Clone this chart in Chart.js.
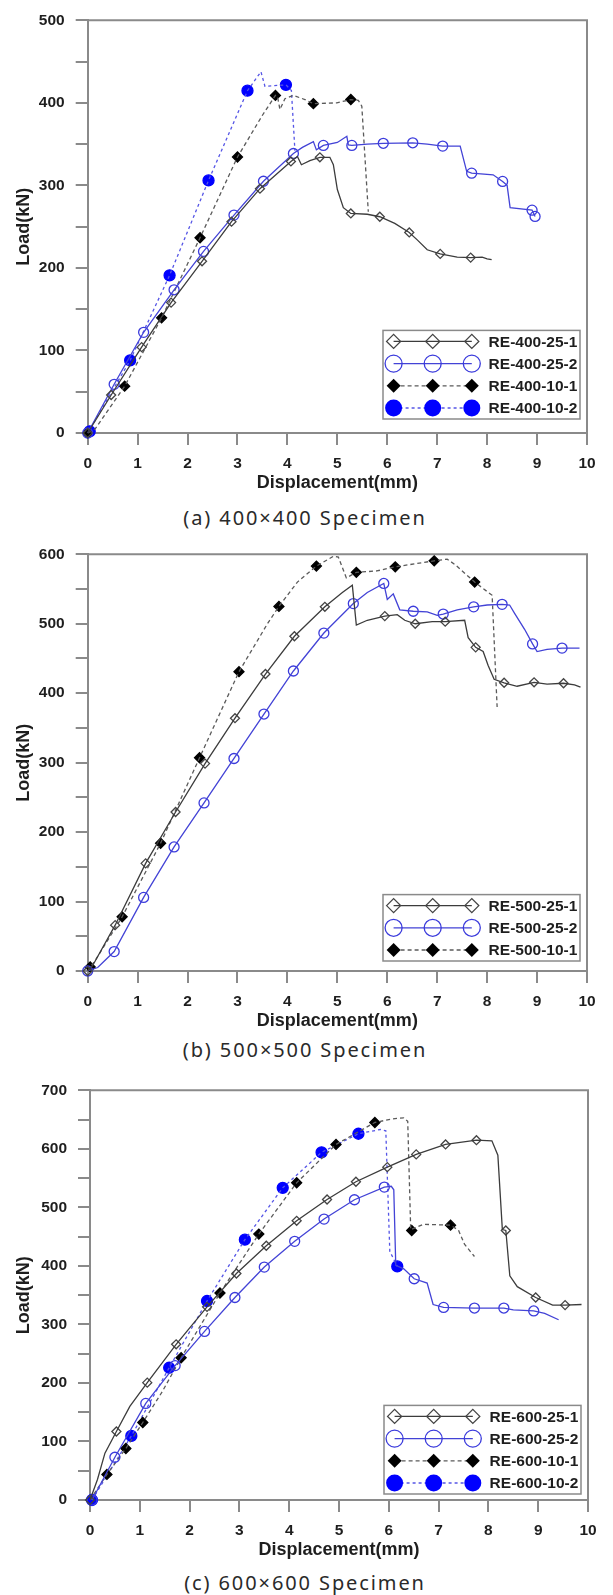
<!DOCTYPE html>
<html>
<head>
<meta charset="utf-8">
<script src="https://cdn.jsdelivr.net/npm/chart.js@4.4.1/dist/chart.umd.min.js"></script>
<style>
  body { margin: 0; background: #fff; width: 613px; height: 1595px; overflow: hidden; position: relative; }
  .painel { position: absolute; left: 0; width: 613px; }
  .rotulo { position: absolute; left: 0; width: 610px; text-align: center; line-height: 24px; letter-spacing: 1.9px;
            font-family: "Noto Sans", "DejaVu Sans", sans-serif; font-size: 20px; color: #2a2a2a; }
</style>
</head>
<body>
<script>
// (a) 400x400
const namesA = ['RE-400-25-1', 'RE-400-25-2', 'RE-400-10-1', 'RE-400-10-2'];
const a1Line = [[0,0],[0.47,46],[1.08,104],[1.67,158],[2.29,208],[2.88,256],[3.45,296],[4.07,329],[4.2,335],[4.28,325],[4.45,330],[4.65,334],[4.85,334],[4.92,325],[5.0,295],[5.12,273],[5.27,266],[5.6,265],[5.85,262],[6.15,254],[6.44,243],[6.6,234],[6.8,222],[7.06,217],[7.4,213],[7.67,212.5],[7.9,213],[8.0,211],[8.09,210]];
const a1Marks = [[0,0],[0.47,46],[1.08,104],[1.67,158],[2.29,208],[2.88,256],[3.45,296],[4.07,329],[4.65,334],[5.27,266],[5.85,262],[6.44,243],[7.06,217],[7.67,212.5]];
const a2Line = [[0,0],[0.53,59],[1.12,122],[1.73,173.5],[2.32,220],[2.93,264],[3.52,305],[4.12,338.6],[4.3,346],[4.52,353],[4.58,343],[4.72,348.4],[5.0,352],[5.19,359.5],[5.22,349],[5.29,348.4],[5.6,350],[5.92,351],[6.51,351.6],[6.8,350],[7.11,347.6],[7.46,347.6],[7.59,317],[7.69,314.8],[8.12,312.8],[8.31,304.8],[8.4,300],[8.46,273],[8.9,270],[8.96,262.4]];
const a2Marks = [[0,0],[0.53,59],[1.12,122],[1.73,173.5],[2.32,220],[2.93,264],[3.52,305],[4.12,338.6],[4.72,348.4],[5.29,348.4],[5.92,351],[6.51,351.6],[7.11,347.6],[7.69,314.8],[8.31,304.8],[8.9,270],[8.96,262.4]];
const a3Line = [[0,0],[0.15,5],[0.74,56.7],[1.48,139.5],[2.25,236.5],[3.0,334.4],[3.5,385],[3.76,409],[3.8,408],[3.85,392],[3.95,405],[4.12,409],[4.35,404],[4.52,399],[4.99,400],[5.27,404],[5.42,403],[5.49,396],[5.62,268]];
const a3Marks = [[0,0],[0.74,56.7],[1.48,139.5],[2.25,236.5],[3.0,334.4],[3.76,409],[4.52,399],[5.27,404]];
const a4Line = [[0,0],[0.85,88],[1.64,191],[2.42,306],[3.2,414.7],[3.47,437.7],[3.55,420],[3.97,421.8],[4.08,415],[4.15,342]];
const a4Marks = [[0.04,2],[0.85,88],[1.64,191],[2.42,306],[3.2,414.7],[3.97,421.8]];

// (b) 500x500
const namesB = ['RE-500-25-1', 'RE-500-25-2', 'RE-500-10-1'];
const b1Line = [[0,0],[0.1,8],[0.55,66],[1.16,155],[1.76,229],[2.35,298.6],[2.95,364],[3.56,427.6],[4.14,482],[4.75,524.4],[5.1,545],[5.3,555.6],[5.38,498],[5.6,505],[5.95,511],[6.2,513],[6.35,505],[6.56,500],[6.9,503],[7.16,503],[7.55,505],[7.62,480],[7.77,466],[7.92,460],[8.02,440],[8.14,420],[8.34,415],[8.6,410],[8.94,415.7],[9.2,413],[9.53,414.3],[9.75,412],[9.87,408.7]];
const b1Marks = [[0,0],[0.55,66],[1.16,155],[1.76,229],[2.35,298.6],[2.95,364],[3.56,427.6],[4.14,482],[4.75,524.4],[5.95,511],[6.56,500],[7.16,503],[7.77,466],[8.34,415],[8.94,415.7],[9.53,414.3]];
const b2Line = [[0,0],[0.2,5],[0.53,28],[1.12,106],[1.73,178.6],[2.33,242],[2.93,306],[3.53,370],[4.12,432],[4.73,486.6],[5.32,529],[5.6,545],[5.93,558],[6.0,535],[6.12,543],[6.25,520],[6.52,518],[6.8,517],[7.0,512],[7.12,514],[7.4,520],[7.73,524.4],[8.0,527],[8.3,528],[8.45,527],[8.55,515],[8.75,492],[8.91,471],[9.0,460],[9.2,463],[9.5,465],[9.85,465]];
const b2Marks = [[0,0],[0.53,28],[1.12,106],[1.73,178.6],[2.33,242],[2.93,306],[3.53,370],[4.12,432],[4.73,486.6],[5.32,529],[5.93,558],[6.52,518],[7.12,514],[7.73,524.4],[8.3,528],[8.91,471],[9.5,465]];
const b3Line = [[0,0],[0.05,5.7],[0.15,15],[0.69,78],[1.46,184],[2.24,307],[3.03,431],[3.6,500],[3.83,525],[4.2,560],[4.58,583],[4.93,597.4],[5.02,596],[5.18,566],[5.38,574],[5.79,576],[6.16,582],[6.94,590.6],[7.2,593],[7.36,585],[7.75,560],[8.1,541],[8.2,380]];
const b3Marks = [[0.05,5.7],[0.69,78],[1.46,184],[2.24,307],[3.03,431],[3.83,525],[4.58,583],[5.38,574],[6.16,582],[6.94,590.6],[7.75,560]];

// (c) 600x600
const namesC = ['RE-600-25-1', 'RE-600-25-2', 'RE-600-10-1', 'RE-600-10-2'];
const c1Line = [[0,0],[0.15,35],[0.3,80],[0.53,117],[0.8,160],[1.15,200.5],[1.73,266],[2.35,330],[2.94,387],[3.54,434.4],[4.15,477],[4.76,513.4],[5.34,543.7],[5.97,568.7],[6.55,590.5],[7.14,607.5],[7.76,614.8],[8.07,613.6],[8.19,589],[8.28,462],[8.35,460.5],[8.43,383],[8.58,364.5],[8.95,346],[9.29,333],[9.54,333],[9.87,334]];
const c1Marks = [[0,0],[0.53,117],[1.15,200.5],[1.73,266],[2.35,330],[2.94,387],[3.54,434.4],[4.15,477],[4.76,513.4],[5.34,543.7],[5.97,568.7],[6.55,590.5],[7.14,607.5],[7.76,614.8],[8.35,460.5],[8.95,346],[9.54,333]];
const c2Line = [[0.04,0],[0.5,73],[1.12,165],[1.71,229.6],[2.3,288],[2.91,346],[3.5,398],[4.11,442],[4.7,480],[5.31,513],[5.91,534.6],[6.05,536],[6.1,530],[6.14,401],[6.3,395],[6.51,378],[6.77,370.6],[6.89,334],[7.1,329],[7.72,328],[8.31,328],[8.5,325],[8.91,323],[9.13,319],[9.41,308]];
const c2Marks = [[0.04,0],[0.5,73],[1.12,165],[1.71,229.6],[2.3,288],[2.91,346],[3.5,398],[4.11,442],[4.7,480],[5.31,513],[5.91,534.6],[6.51,378],[7.1,329],[7.72,328],[8.31,328],[8.91,323]];
const c3Line = [[0,0],[0.34,43.7],[0.72,88],[1.06,132.4],[1.45,185],[1.83,243],[2.61,353.6],[3.39,454.4],[4.15,542],[4.94,607.5],[5.72,645],[6.06,651],[6.3,653],[6.38,647],[6.44,461.7],[6.69,471],[7.24,469.6],[7.4,461],[7.52,437],[7.72,416]];
const c3Marks = [[0.34,43.7],[0.72,88],[1.06,132.4],[1.83,243],[2.61,353.6],[3.39,454.4],[4.15,542],[4.94,607.5],[5.72,645],[6.46,460.5],[7.24,469.6]];
const c4Line = [[0.04,0],[0.83,109.4],[1.59,226],[2.35,340],[3.11,444.8],[3.87,533.4],[4.65,594],[5.39,625.8],[5.83,633],[5.94,630.8],[6.02,425],[6.17,399]];
const c4Marks = [[0.04,0],[0.83,109.4],[1.59,226],[2.35,340],[3.11,444.8],[3.87,533.4],[4.65,594],[5.39,625.8],[6.17,399]];

const yMaxes = [500, 600, 700];
const captions = ['(a) 400×400 Specimen', '(b) 500×500 Specimen', '(c) 600×600 Specimen'];

// looks of the four kinds of curves (same order as the legend)
const looks = [
  { line: '#3c3c3c', dash: [], shape: 'diamond', filled: false, mark: '#444', r: 4.5, legR: 7 },
  { line: '#4343d6', dash: [], shape: 'circle', filled: false, mark: '#3b3bdc', r: 5, legR: 8.5 },
  { line: '#5a5a5a', dash: [4, 3], shape: 'diamond', filled: true, mark: '#000', r: 5, legR: 7 },
  { line: '#5555e6', dash: [3, 3], shape: 'circle', filled: true, mark: '#0000ff', r: 5.5, legR: 8.5 }
];

// plot area of each panel on the page
const panels = [
  { plotTop: 12.7, plotBottom: 433, plotLeft: 87.7, plotRight: 587, legendGap: 14, caption: 518 },
  { plotTop: 546.7, plotBottom: 971, plotLeft: 87.7, plotRight: 587, legendGap: 10, caption: 1050 },
  { plotTop: 1082.7, plotBottom: 1500, plotLeft: 90, plotRight: 588, legendGap: 6, caption: 1583 }
];

const tickFont = { family: '"Liberation Sans", Arial, sans-serif', size: 15.5, weight: 'bold' };
const titleFont = { family: '"Liberation Sans", Arial, sans-serif', size: 18, weight: 'bold' };
const frameColor = '#8a8a8a';

function drawMarker(ctx, look, x, y, r) {
  ctx.beginPath();
  if (look.shape === 'diamond') {
    ctx.moveTo(x - r, y); ctx.lineTo(x, y - r); ctx.lineTo(x + r, y); ctx.lineTo(x, y + r); ctx.closePath();
  } else {
    ctx.arc(x, y, r, 0, Math.PI * 2);
  }
  if (look.filled) {
    ctx.fillStyle = look.mark;
    ctx.fill();
  } else {
    ctx.strokeStyle = look.mark;
    ctx.lineWidth = 1.3;
    ctx.stroke();
  }
}

const frame = {
  id: 'frame',
  beforeDatasetsDraw(chart) {
    const { ctx, chartArea: a } = chart;
    ctx.save();
    ctx.strokeStyle = frameColor;
    ctx.lineWidth = 2;
    ctx.beginPath();
    ctx.moveTo(a.left, a.top);
    ctx.lineTo(a.right, a.top);
    ctx.lineTo(a.right, a.bottom);
    ctx.stroke();
    ctx.restore();
  }
};

const legendBox = {
  id: 'legendBox',
  afterDraw(chart, args, opts) {
    const { ctx, chartArea: a } = chart;
    const rowH = 22.2;
    const w = 197;
    const h = (opts.names.length - 1) * rowH + 22;
    const left = a.right - 7 - w;
    const top = a.bottom - opts.gap - h;
    ctx.save();
    ctx.fillStyle = '#fff';
    ctx.fillRect(left, top, w, h);
    ctx.strokeStyle = frameColor;
    ctx.lineWidth = 1.5;
    ctx.strokeRect(left, top, w, h);
    opts.names.forEach((name, i) => {
      const look = looks[i];
      const y = top + 11 + i * rowH;
      ctx.beginPath();
      ctx.setLineDash(look.dash);
      ctx.strokeStyle = look.line;
      ctx.lineWidth = 1.3;
      ctx.moveTo(left + 10.6, y);
      ctx.lineTo(left + 88.8, y);
      ctx.stroke();
      ctx.setLineDash([]);
      [10.6, 49.7, 88.8].forEach(dx => drawMarker(ctx, look, left + dx, y, look.legR));
      ctx.fillStyle = '#1e1e1e';
      ctx.font = 'bold 15.5px "Liberation Sans", Arial, sans-serif';
      ctx.textAlign = 'left';
      ctx.textBaseline = 'middle';
      ctx.fillText(name, left + 105.6, y + 1);
    });
    ctx.restore();
  }
};

function buildDatasets(names, lines, marks) {
  const sets = [];
  names.forEach((name, i) => {
    const look = looks[i];
    sets.push({
      label: name, data: lines[i], borderColor: look.line, borderWidth: 1.3,
      borderDash: look.dash, pointRadius: 0, fill: false, tension: 0, clip: false
    });
    sets.push({
      label: name + ' marks', data: marks[i], showLine: false, pointStyle: look.shape === 'diamond' ? 'rectRot' : 'circle',
      pointRadius: look.r, pointBorderWidth: 1.3, pointBorderColor: look.mark,
      pointBackgroundColor: look.filled ? look.mark : 'rgba(0,0,0,0)', clip: false
    });
  });
  return sets;
}

function buildChart(k, names, lines, marks) {
  const p = panels[k];
  const padTop = 13;
  const axisH = 61;
  const div = document.createElement('div');
  div.className = 'painel';
  div.style.top = (p.plotTop - padTop) + 'px';
  const canvas = document.createElement('canvas');
  canvas.width = 613;
  canvas.height = Math.round(p.plotBottom - p.plotTop + padTop + axisH);
  div.appendChild(canvas);
  document.body.appendChild(div);

  const cap = document.createElement('div');
  cap.className = 'rotulo';
  cap.style.top = (p.caption - 12) + 'px';
  cap.textContent = captions[k];
  document.body.appendChild(cap);

  new Chart(canvas, {
    type: 'line',
    data: { datasets: buildDatasets(names, lines, marks) },
    options: {
      responsive: false,
      animation: false,
      layout: { padding: { top: padTop, left: 0, right: 613 - p.plotRight, bottom: 0 } },
      plugins: {
        legend: { display: false },
        tooltip: { enabled: false },
        legendBox: { names: names, gap: p.legendGap }
      },
      scales: {
        x: {
          type: 'linear', min: 0, max: 10,
          afterFit: s => { s.height = axisH; },
          ticks: { stepSize: 1, autoSkip: false, maxRotation: 0, padding: 9, font: tickFont, color: '#1e1e1e' },
          grid: { drawOnChartArea: false, tickLength: 12, color: frameColor, lineWidth: 2 },
          border: { color: frameColor, width: 2 },
          title: { display: true, text: 'Displacement(mm)', font: titleFont, color: '#1e1e1e', padding: 0 }
        },
        y: {
          type: 'linear', min: 0, max: yMaxes[k],
          afterFit: s => { s.width = p.plotLeft; },
          ticks: {
            stepSize: 50, autoSkip: false, padding: 11, font: tickFont, color: '#1e1e1e',
            callback: v => (v % 100 === 0 ? v : '')
          },
          grid: { drawOnChartArea: false, tickLength: 12, color: frameColor, lineWidth: 2 },
          border: { color: frameColor, width: 2 },
          title: { display: true, text: 'Load(kN)', font: titleFont, color: '#1e1e1e', padding: { top: 13, bottom: 0 } }
        }
      }
    },
    plugins: [frame, legendBox]
  });
}

buildChart(0, namesA, [a1Line, a2Line, a3Line, a4Line], [a1Marks, a2Marks, a3Marks, a4Marks]);
buildChart(1, namesB, [b1Line, b2Line, b3Line], [b1Marks, b2Marks, b3Marks]);
buildChart(2, namesC, [c1Line, c2Line, c3Line, c4Line], [c1Marks, c2Marks, c3Marks, c4Marks]);
</script>
</body>
</html>
